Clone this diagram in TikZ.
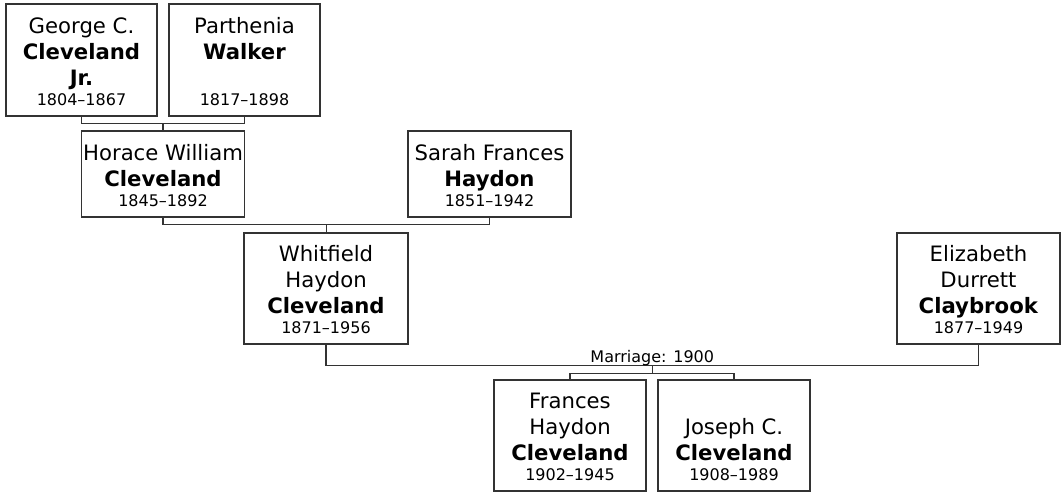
\documentclass[tikz,border=0pt]{standalone}
\usepackage{fontspec}
\setmainfont{DejaVu Sans}
\usetikzlibrary{calc}
\newcommand{\yr}[1]{\\[-4.5pt]{\fontsize{12pt}{14pt}\selectfont #1}}
\begin{document}
\begin{tikzpicture}[x=0.75pt,y=-0.75pt,
  person/.style={draw=black!80, line width=0.85pt, inner sep=0pt, fill=white},
  wh/.style 2 args={minimum width=#1*0.75pt, minimum height=#2*0.75pt},
  ptext/.style={align=center, inner sep=0pt, text depth=0pt, anchor=south,
    font=\fontsize{15.9pt}{19.5pt}\selectfont},
  link/.style={draw=black!80, line width=0.85pt},
  small/.style={font=\fontsize{12pt}{14pt}\selectfont, inner sep=0pt}]
\useasboundingbox (0,0) rectangle (1061,493);

% boxes
\node[person, wh={151}{112}] (george)    at (81.5,60)   {};
\node[person, wh={151}{112}] (parthenia) at (244.5,60)  {};
\node[person, wh={163}{86}]  (horace)    at (163,174)   {};
\node[person, wh={163}{86}]  (sarah)     at (489.5,174) {};
\node[person, wh={164}{111}] (whitfield) at (326,288.5) {};
\node[person, wh={163}{111}] (claybrook) at (978.5,288.5) {};
\node[person, wh={152}{111}] (frances)   at (570,435.5) {};
\node[person, wh={152}{111}] (joseph)    at (734,435.5) {};

% texts
\node[ptext] (george-t) at ($(george.south)+(0,-11)$)
  {George C.\\\textbf{Cleveland}\\\textbf{Jr.}\yr{1804–1867}};
\node[ptext] (parthenia-t) at ($(parthenia.south)+(0,-11)$)
  {Parthenia\\\textbf{Walker}\\\mbox{}\yr{1817–1898}};
\node[ptext] (horace-t) at ($(horace.south)+(0,-11)$)
  {Horace William\\\textbf{Cleveland}\yr{1845–1892}};
\node[ptext] (sarah-t) at ($(sarah.south)+(0,-11)$)
  {Sarah Frances\\\textbf{Haydon}\yr{1851–1942}};
\node[ptext] (whitfield-t) at ($(whitfield.south)+(0,-11)$)
  {Whitfield\\Haydon\\\textbf{Cleveland}\yr{1871–1956}};
\node[ptext] (claybrook-t) at ($(claybrook.south)+(0,-11)$)
  {Elizabeth\\Durrett\\\textbf{Claybrook}\yr{1877–1949}};
\node[ptext] (frances-t) at ($(frances.south)+(0,-11)$)
  {Frances\\Haydon\\\textbf{Cleveland}\yr{1902–1945}};
\node[ptext] (joseph-t) at ($(joseph.south)+(0,-11)$)
  {Joseph C.\\\textbf{Cleveland}\yr{1908–1989}};

% connectors
\coordinate (m1) at ($(george.south)!0.5!(parthenia.south)+(0,7)$);
\draw[link] (george.south) |- (m1) -| (parthenia.south);
\draw[link] (m1) -- (horace.north);

\coordinate (m2) at ($(horace.south)!0.5!(sarah.south)+(0,7)$);
\draw[link] (horace.south) |- (m2) -| (sarah.south);
\draw[link] (m2) -- (m2 |- whitfield.north);

\coordinate (m3) at ($(whitfield.south)!0.5!(claybrook.south)+(0,21)$);
\draw[link] (whitfield.south) |- (m3) -| (claybrook.south);
\node[small, anchor=base] (marriage) at ($(m3)+(0,-3.5)$) {Marriage: 1900};

\coordinate (m4) at ($(m3)+(0,8)$);
\draw[link] (m3) -- (m4);
\draw[link] (frances.north) |- (m4) -| (joseph.north);
\end{tikzpicture}
\end{document}
